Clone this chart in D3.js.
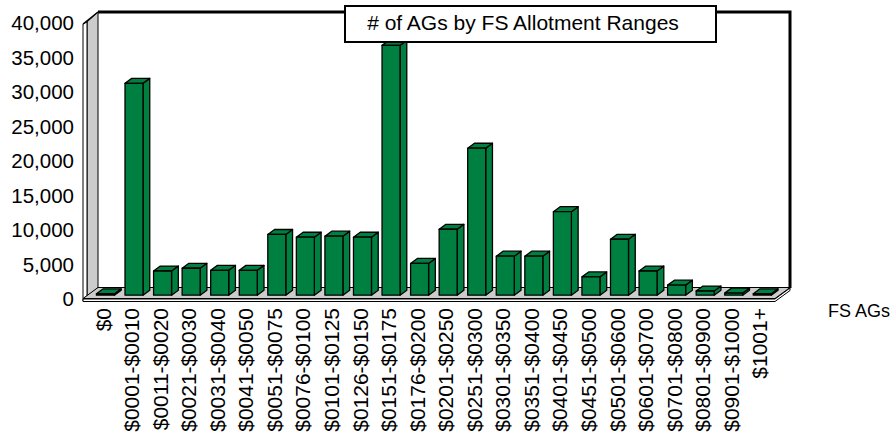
<!DOCTYPE html>
<html><head><meta charset="utf-8">
<script src="https://cdn.jsdelivr.net/npm/d3@7"></script>
<style>body{margin:0;background:#fff}svg{display:block}text{font-family:"Liberation Sans",Arial,sans-serif;fill:#000}</style>
</head><body><svg id="c" width="896" height="439"></svg>
<script>
const categories = ["$0","$0001-$0010","$0011-$0020","$0021-$0030","$0031-$0040","$0041-$0050","$0051-$0075","$0076-$0100","$0101-$0125","$0126-$0150","$0151-$0175","$0176-$0200","$0201-$0250","$0251-$0300","$0301-$0350","$0351-$0400","$0401-$0450","$0451-$0500","$0501-$0600","$0601-$0700","$0701-$0800","$0801-$0900","$0901-$1000","$1001+"];
const values = [200,30700,3500,3900,3600,3600,8800,8400,8550,8400,36200,4600,9550,21300,5650,5650,12100,2650,8100,3500,1450,600,300,200];
const yTicks = [0,5000,10000,15000,20000,25000,30000,35000,40000];
const title = "# of AGs by FS Allotment Ranges";
const seriesName = "FS AGs";

const svg = d3.select("#c");
const DX = 15, DY = -11;           // full depth offset
const green = "#008040", wallGray = "#cccccc";
const x = d3.scaleBand().domain(categories).range([86, 771.4]).padding(0);
const y = d3.scaleLinear().domain([0, 40000]).range([299, 23]);
const P = (px, py, f) => [px + DX * f, py + DY * f];
const poly = pts => "M" + pts.map(p => p.join(",")).join("L") + "Z";

const xL = 83, xR = 775, y0 = y(0), yTop = y(40000);
// back wall
svg.append("path").attr("d", poly([P(xL, yTop, 1), P(xR, yTop, 1), P(xR, y0, 1), P(xL, y0, 1)]))
  .attr("fill", "#fff");
// left wall
svg.append("path").attr("d", poly([[xL + 4, yTop - 1], P(xL, yTop, 1), P(xL, y0, 1), [xL + 4, y0]]))
  .attr("fill", wallGray).attr("stroke", "#000").attr("stroke-width", 1);
svg.append("path").attr("d", poly([[xL, yTop + 1], [xL + 4, yTop - 1], [xL + 4, y0 + 2], [xL, y0 + 2]]))
  .attr("fill", "#fff").attr("stroke", "#000").attr("stroke-width", 1);
// floor
svg.append("path").attr("d", poly([[xL, y0], [xR, y0], P(xR, y0, 1), P(xL, y0, 1)]))
  .attr("fill", wallGray).attr("stroke", "#000").attr("stroke-width", 1);
svg.append("path").attr("d", poly([[xL, y0], [xR, y0], P(xR, y0, 1), [P(xR, y0, 1)[0], P(xR, y0, 1)[1] + 2.5], [xR, y0 + 2.5], [xL, y0 + 2.5]]))
  .attr("fill", "#fff").attr("stroke", "#000").attr("stroke-width", 1);
svg.append("path").attr("d", poly([[xL, y0 - 0.5], [xR, y0 - 0.5], P(xR, y0 - 0.5, 1), P(xL, y0 - 0.5, 1)]))
  .attr("fill", wallGray).attr("stroke", "#000").attr("stroke-width", 1);
// back wall thick border top & right
svg.append("path").attr("d", "M" + P(xL, yTop, 1).join(",") + "L" + P(xR, yTop, 1).join(",") + "L" + P(xR, y0, 1).join(","))
  .attr("fill", "none").attr("stroke", "#000").attr("stroke-width", 3);
svg.append("path").attr("d", "M" + [xL, yTop + 1].join(",") + "L" + P(xL, yTop, 1).join(","))
  .attr("fill", "none").attr("stroke", "#000").attr("stroke-width", 1.5);

// bars
const f0 = 0.35, f1 = 0.8, bw = 18, off = 5.2;
const bars = svg.append("g").selectAll("g").data(categories).join("g");
bars.each(function (c, i) {
  const g = d3.select(this);
  const x0 = x(c) + off, x1 = x0 + bw;
  const yb = y(0), yt = y(values[i]);
  const st = {fill: green, stroke: "#000", "stroke-width": 1.3, "stroke-linejoin": "round"};
  const add = d => { const p = g.append("path").attr("d", d); Object.entries(st).forEach(([k, v]) => p.attr(k, v)); };
  // side
  add(poly([P(x1, yt, f0), P(x1, yt, f1), P(x1, yb, f1), P(x1, yb, f0)]));
  // top
  add(poly([P(x0, yt, f0), P(x1, yt, f0), P(x1, yt, f1), P(x0, yt, f1)]));
  // front
  add(poly([P(x0, yt, f0), P(x1, yt, f0), P(x1, yb, f0), P(x0, yb, f0)]));
});

// y tick labels
svg.append("g").selectAll("text").data(yTicks).join("text")
  .attr("x", 74).attr("y", d => y(d)).attr("dy", "0.36em")
  .attr("text-anchor", "end").style("font-size", "20.5px")
  .text(d => d3.format(",")(d));

// category labels
svg.append("g").selectAll("text").data(categories).join("text")
  .attr("transform", d => `translate(${x(d) + x.bandwidth() / 2 + 2.7},308) rotate(-90)`)
  .attr("dy", "0.36em").attr("text-anchor", "end").style("font-size", "21px")
  .text(d => d);

// title box
svg.append("rect").attr("x", 345).attr("y", 6).attr("width", 371).attr("height", 36)
  .attr("fill", "#fff").attr("stroke", "#000").attr("stroke-width", 2);
svg.append("text").attr("x", 523).attr("y", 30).attr("text-anchor", "middle")
  .style("font-size", "21px").text(title);

// series label
svg.append("text").attr("x", 828).attr("y", 317).style("font-size", "18px").text(seriesName);
</script></body></html>
